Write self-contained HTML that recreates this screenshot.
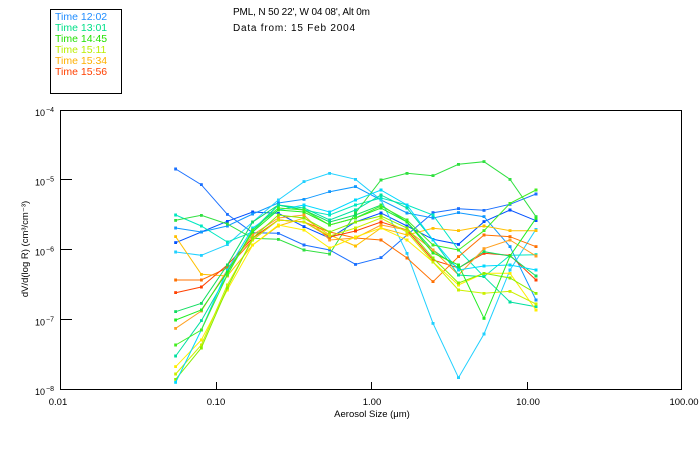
<!DOCTYPE html>
<html><head><meta charset="utf-8"><style>
html,body{margin:0;padding:0;background:#fff;}
svg{display:block;}
text{font-family:"Liberation Sans",sans-serif;fill:#000;}
</style></head><body>
<svg width="700" height="450" viewBox="0 0 700 450" xmlns="http://www.w3.org/2000/svg">
<defs>
<marker id="m1" markerUnits="userSpaceOnUse" markerWidth="3" markerHeight="3" refX="1.5" refY="1.5"><rect width="3" height="3" fill="#1a70ff"/></marker>
<marker id="m2" markerUnits="userSpaceOnUse" markerWidth="3" markerHeight="3" refX="1.5" refY="1.5"><rect width="3" height="3" fill="#0050ff"/></marker>
<marker id="m3" markerUnits="userSpaceOnUse" markerWidth="3" markerHeight="3" refX="1.5" refY="1.5"><rect width="3" height="3" fill="#1098ff"/></marker>
<marker id="m4" markerUnits="userSpaceOnUse" markerWidth="3" markerHeight="3" refX="1.5" refY="1.5"><rect width="3" height="3" fill="#20d0ff"/></marker>
<marker id="m5" markerUnits="userSpaceOnUse" markerWidth="3" markerHeight="3" refX="1.5" refY="1.5"><rect width="3" height="3" fill="#00e8c0"/></marker>
<marker id="m6" markerUnits="userSpaceOnUse" markerWidth="3" markerHeight="3" refX="1.5" refY="1.5"><rect width="3" height="3" fill="#30e040"/></marker>
<marker id="m7" markerUnits="userSpaceOnUse" markerWidth="3" markerHeight="3" refX="1.5" refY="1.5"><rect width="3" height="3" fill="#ffc000"/></marker>
<marker id="m8" markerUnits="userSpaceOnUse" markerWidth="3" markerHeight="3" refX="1.5" refY="1.5"><rect width="3" height="3" fill="#ff7000"/></marker>
<marker id="m9" markerUnits="userSpaceOnUse" markerWidth="3" markerHeight="3" refX="1.5" refY="1.5"><rect width="3" height="3" fill="#ff4000"/></marker>
<marker id="m10" markerUnits="userSpaceOnUse" markerWidth="3" markerHeight="3" refX="1.5" refY="1.5"><rect width="3" height="3" fill="#10dd60"/></marker>
<marker id="m11" markerUnits="userSpaceOnUse" markerWidth="3" markerHeight="3" refX="1.5" refY="1.5"><rect width="3" height="3" fill="#ffa020"/></marker>
<marker id="m12" markerUnits="userSpaceOnUse" markerWidth="3" markerHeight="3" refX="1.5" refY="1.5"><rect width="3" height="3" fill="#00e0a0"/></marker>
<marker id="m13" markerUnits="userSpaceOnUse" markerWidth="3" markerHeight="3" refX="1.5" refY="1.5"><rect width="3" height="3" fill="#ffee00"/></marker>
<marker id="m14" markerUnits="userSpaceOnUse" markerWidth="3" markerHeight="3" refX="1.5" refY="1.5"><rect width="3" height="3" fill="#ccf000"/></marker>
<marker id="m15" markerUnits="userSpaceOnUse" markerWidth="3" markerHeight="3" refX="1.5" refY="1.5"><rect width="3" height="3" fill="#88ee00"/></marker>
<marker id="m16" markerUnits="userSpaceOnUse" markerWidth="3" markerHeight="3" refX="1.5" refY="1.5"><rect width="3" height="3" fill="#00d8ff"/></marker>
<marker id="m17" markerUnits="userSpaceOnUse" markerWidth="3" markerHeight="3" refX="1.5" refY="1.5"><rect width="3" height="3" fill="#22ee22"/></marker>
<marker id="m18" markerUnits="userSpaceOnUse" markerWidth="3" markerHeight="3" refX="1.5" refY="1.5"><rect width="3" height="3" fill="#44ee22"/></marker>
</defs>

<!-- Legend -->
<rect x="50.5" y="9.5" width="71" height="84" fill="none" stroke="#000" stroke-width="1"/>
<text x="55" y="20" font-size="10.5" style="fill:#1e8cff">Time 12:02</text>
<text x="55" y="31" font-size="10.5" style="fill:#00e088">Time 13:01</text>
<text x="55" y="42" font-size="10.5" style="fill:#22e000">Time 14:45</text>
<text x="55" y="53" font-size="10.5" style="fill:#bbee00">Time 15:11</text>
<text x="55" y="64" font-size="10.5" style="fill:#ffb000">Time 15:34</text>
<text x="55" y="75" font-size="10.5" style="fill:#ff4000">Time 15:56</text>

<!-- Title -->
<text x="233" y="15" font-size="10" textLength="137" lengthAdjust="spacing">PML, N 50 22', W 04 08', Alt 0m</text>
<text x="233" y="31" font-size="10" textLength="122" lengthAdjust="spacing">Data from: 15 Feb 2004</text>

<!-- Series -->
<g fill="none" stroke-width="1">
<polyline stroke="#1a70ff" marker-start="url(#m1)" marker-mid="url(#m1)" marker-end="url(#m1)" points="175.7,169 201.3,184.7 227.3,214.3 252.7,232.7 278.3,233.3 304,245 329.7,250 355.5,264.3 381,257.7 407,235 433,212.7 458.5,208.7 484,210.3 510,204.3 536,194"/>
<polyline stroke="#0050ff" marker-start="url(#m2)" marker-mid="url(#m2)" marker-end="url(#m2)" points="175.7,242.7 201.3,232 227.3,221.3 252.7,212 278.3,213.3 304,226.7 329.7,238 355.5,222 381,213 407,226 433,239.3 458.5,244.3 484,221.7 510,210 536,220.7"/>
<polyline stroke="#1098ff" marker-start="url(#m3)" marker-mid="url(#m3)" marker-end="url(#m3)" points="175.7,228 201.3,232 227.3,226 252.7,214 278.3,203 304,199.3 329.7,191.7 355.5,186.7 381,200 407,213 433,218 458.5,212.7 484,216.7 510,246.7 536,300"/>
<polyline stroke="#20d0ff" marker-start="url(#m4)" marker-mid="url(#m4)" marker-end="url(#m4)" points="175.7,252 201.3,255.3 227.3,244.7 252.7,222 278.3,200 304,181.7 329.7,173.3 355.5,179.3 381,200 407,253.3 433,323.3 458.5,377.7 484,334 510,270 536,229.3"/>
<polyline stroke="#00e8c0" marker-start="url(#m5)" marker-mid="url(#m5)" marker-end="url(#m5)" points="175.7,215 201.3,226 227.3,242 252.7,232 278.3,205 304,210 329.7,215 355.5,205 381,198 407,205 433,215 458.5,250 484,276.7 510,255.3 536,254.7"/>
<polyline stroke="#30e040" marker-start="url(#m6)" marker-mid="url(#m6)" marker-end="url(#m6)" points="175.7,220.3 201.3,215.3 227.3,224 252.7,238.3 278.3,239.3 304,250 329.7,254 355.5,213 381,180 407,173.3 433,175.7 458.5,164.3 484,161.7 510,179.3 536,216.7"/>
<polyline stroke="#ffc000" marker-start="url(#m7)" marker-mid="url(#m7)" marker-end="url(#m7)" points="175.7,236.7 201.3,274.3 227.3,276 252.7,245 278.3,226 304,218 329.7,235 355.5,246 381,228 407,235 433,228.3 458.5,230.7 484,226 510,230.7 536,230.7"/>
<polyline stroke="#ff7000" marker-start="url(#m8)" marker-mid="url(#m8)" marker-end="url(#m8)" points="175.7,280 201.3,280 227.3,268 252.7,240 278.3,220 304,222 329.7,232 355.5,238 381,240 407,258 433,281.7 458.5,256.7 484,235 510,236.7 536,246.7"/>
<polyline stroke="#ff4000" marker-start="url(#m9)" marker-mid="url(#m9)" marker-end="url(#m9)" points="175.7,292.7 201.3,287 227.3,265 252.7,238 278.3,220 304,222 329.7,237 355.5,231 381,222 407,230 433,260 458.5,268 484,253.3 510,255.3 536,280"/>
<polyline stroke="#10dd60" marker-start="url(#m10)" marker-mid="url(#m10)" marker-end="url(#m10)" points="175.7,311.7 201.3,303.3 227.3,265 252.7,222 278.3,205 304,210 329.7,222 355.5,215 381,205 407,222 433,250 458.5,268 484,251.7 510,256 536,276"/>
<polyline stroke="#ffa020" marker-start="url(#m11)" marker-mid="url(#m11)" marker-end="url(#m11)" points="175.7,328.3 201.3,311 227.3,270 252.7,235 278.3,218 304,215 329.7,240 355.5,238 381,225 407,230 433,250 458.5,275 484,248.7 510,240 536,256"/>
<polyline stroke="#00e0a0" marker-start="url(#m12)" marker-mid="url(#m12)" marker-end="url(#m12)" points="175.7,356 201.3,320.7 227.3,275 252.7,230 278.3,205 304,208 329.7,220 355.5,210 381,195 407,208 433,240 458.5,275 484,276.7 510,302 536,306.7"/>
<polyline stroke="#ffee00" marker-start="url(#m13)" marker-mid="url(#m13)" marker-end="url(#m13)" points="175.7,366.7 201.3,340 227.3,290 252.7,245 278.3,225 304,230 329.7,248 355.5,237 381,228 407,240 433,262 458.5,285 484,273.3 510,273.3 536,310"/>
<polyline stroke="#ccf000" marker-start="url(#m14)" marker-mid="url(#m14)" marker-end="url(#m14)" points="175.7,374 201.3,345 227.3,285 252.7,240 278.3,220 304,222 329.7,236 355.5,228 381,218 407,232 433,262 458.5,290 484,293.3 510,291.3 536,304"/>
<polyline stroke="#88ee00" marker-start="url(#m15)" marker-mid="url(#m15)" marker-end="url(#m15)" points="175.7,379.3 201.3,348 227.3,288 252.7,238 278.3,215 304,218 329.7,232 355.5,222 381,216 407,228 433,258 458.5,283 484,273.3 510,278 536,293.3"/>
<polyline stroke="#00d8ff" marker-start="url(#m16)" marker-mid="url(#m16)" marker-end="url(#m16)" points="175.7,382.3 201.3,330 227.3,270 252.7,228 278.3,210 304,205 329.7,212 355.5,200 381,190 407,205 433,240 458.5,270 484,266 510,265 536,270"/>
<polyline stroke="#22ee22" marker-start="url(#m17)" marker-mid="url(#m17)" marker-end="url(#m17)" points="175.7,320 201.3,310 227.3,272 252.7,232 278.3,210 304,212 329.7,225 355.5,218 381,208 407,222 433,253 458.5,265 484,318.3 510,256 536,218.3"/>
<polyline stroke="#44ee22" marker-start="url(#m18)" marker-mid="url(#m18)" marker-end="url(#m18)" points="175.7,345 201.3,330 227.3,275 252.7,230 278.3,208 304,210 329.7,225 355.5,218 381,206 407,220 433,245 458.5,250 484,230.7 510,203.3 536,190"/>
</g>

<!-- Axes box -->
<rect x="60.5" y="110.5" width="621" height="279" fill="none" stroke="#000" stroke-width="1" shape-rendering="crispEdges"/>
<g stroke="#000" stroke-width="1" shape-rendering="crispEdges">
<line x1="60" y1="179.5" x2="72" y2="179.5"/>
<line x1="60" y1="249.5" x2="72" y2="249.5"/>
<line x1="60" y1="319.5" x2="72" y2="319.5"/>
<line x1="216.5" y1="389" x2="216.5" y2="382"/>
<line x1="371.5" y1="389" x2="371.5" y2="382"/>
<line x1="527.5" y1="389" x2="527.5" y2="382"/>
</g>

<!-- Y tick labels -->
<g font-size="9">
<text x="35" y="116">10</text><text x="46" y="112" font-size="7">−4</text>
<text x="35" y="185.5">10</text><text x="46" y="181.5" font-size="7">−5</text>
<text x="35" y="255.5">10</text><text x="46" y="251.5" font-size="7">−6</text>
<text x="35" y="325.5">10</text><text x="46" y="321.5" font-size="7">−7</text>
<text x="35" y="395">10</text><text x="46" y="391" font-size="7">−8</text>
</g>

<!-- X tick labels -->
<g font-size="9.5" text-anchor="middle">
<text x="58" y="405">0.01</text>
<text x="216" y="405">0.10</text>
<text x="372" y="405">1.00</text>
<text x="528" y="405">10.00</text>
<text x="684" y="405">100.00</text>
</g>

<!-- Axis titles -->
<text x="372" y="417" font-size="9.5" text-anchor="middle">Aerosol Size (μm)</text>
<text transform="translate(28,249) rotate(-90)" font-size="9.5" text-anchor="middle">dV/d(log R) (cm³/cm⁻³)</text>
</svg>
</body></html>
